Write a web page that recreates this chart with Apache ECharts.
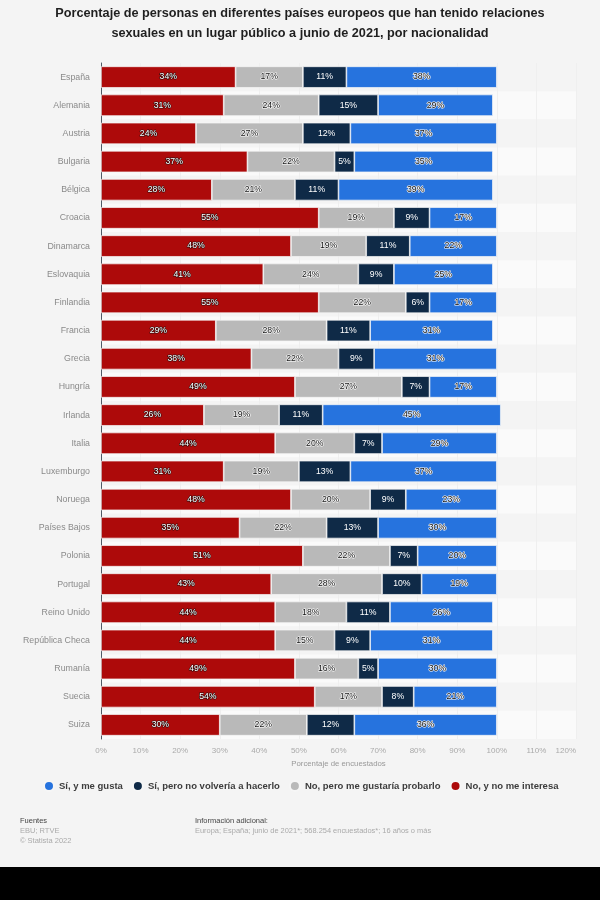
<!DOCTYPE html>
<html><head><meta charset="utf-8">
<script src="https://cdn.jsdelivr.net/npm/echarts@6/dist/echarts.min.js"></script>
<style>html,body{margin:0;padding:0;background:#000}#c{width:600px;height:900px}</style>
</head><body><div id="c"></div>
<script>
const categories=["España","Alemania","Austria","Bulgaria","Bélgica","Croacia","Dinamarca","Eslovaquia","Finlandia","Francia","Grecia","Hungría","Irlanda","Italia","Luxemburgo","Noruega","Países Bajos","Polonia","Portugal","Reino Unido","República Checa","Rumanía","Suecia","Suiza"];
const noInteresa=[34,31,24,37,28,55,48,41,55,29,38,49,26,44,31,48,35,51,43,44,44,49,54,30];
const noProbar=[17,24,27,22,21,19,19,24,22,28,22,27,19,20,19,20,22,22,28,18,15,16,17,22];
const siNoVolveria=[11,15,12,5,11,9,11,9,6,11,9,7,11,7,13,9,13,7,10,11,9,5,8,12];
const siGusta=[38,29,37,35,39,17,22,25,17,31,31,17,45,29,37,23,30,20,19,26,31,30,21,36];
const seriesNames=["Sí, y me gusta","Sí, pero no volvería a hacerlo","No, pero me gustaría probarlo","No, y no me interesa"];
const colors={gusta:"#2673de",volveria:"#0f2a47",probar:"#b9b9b9",interesa:"#ad0a0a"};
const title="Porcentaje de personas en diferentes países europeos que han tenido relaciones\nsexuales en un lugar público a junio de 2021, por nacionalidad";
const font="'Liberation Sans',Arial,sans-serif";
const light={color:"#fff",textBorderColor:"#2a1010",textBorderWidth:1.2};
const dark={color:"#111",textBorderColor:"#fff",textBorderWidth:1.2};
const clean={color:"#fff",textBorderWidth:0};
function s(name,data,color,lab){return{name,type:"bar",stack:"t",data,barWidth:21.5,
 itemStyle:{color,borderColor:"#f6f6f6",borderWidth:0.7},
 label:Object.assign({show:true,position:"inside",formatter:"{c}%",fontSize:8.7,fontFamily:font},lab)};}
const chart=echarts.init(document.getElementById("c"),null,{renderer:"canvas"});
chart.setOption({animation:false,backgroundColor:"#f4f4f4",
 title:[{text:title,left:"center",top:4,padding:0,textStyle:{fontFamily:font,fontSize:12.7,fontWeight:"bold",color:"#1f1f1f",lineHeight:19.5}}],
 grid:{left:101,top:63,width:475,height:676,containLabel:false},
 legend:{data:seriesNames,top:775,left:43,padding:[5,0,5,0],icon:"circle",itemWidth:10,itemHeight:10,itemGap:9,
  textStyle:{fontFamily:font,fontSize:9.5,fontWeight:"bold",color:"#3c3c3c",padding:[0,0,0,0]}},
 xAxis:{type:"value",min:0,max:120,interval:10,
  name:"Porcentaje de encuestados",nameLocation:"middle",nameGap:21,
  nameTextStyle:{fontFamily:font,fontSize:7.8,color:"#999"},
  axisLabel:{formatter:"{value}%",fontFamily:font,fontSize:8,color:"#aaa",margin:8,
   alignMaxLabel:"right"},
  axisLine:{show:false},axisTick:{show:false},
  splitLine:{show:true,lineStyle:{color:"#efefef",width:1}}},
 yAxis:{type:"category",inverse:true,data:categories,offset:0.6,
  axisLabel:{fontFamily:font,fontSize:8.8,color:"#8a8a8a",margin:10.4},
  axisTick:{show:false},axisLine:{show:true,lineStyle:{color:"#4f5a66",width:1}},
  splitArea:{show:true,areaStyle:{color:["#f4f4f4","#fafafa"]}},splitLine:{show:false}},
 series:[s(seriesNames[3],noInteresa,colors.interesa,light),
  s(seriesNames[2],noProbar,colors.probar,dark),
  s(seriesNames[1],siNoVolveria,colors.volveria,clean),
  s(seriesNames[0],siGusta,colors.gusta,dark)],
 graphic:[
  {type:"rect",silent:true,shape:{x:0,y:867,width:600,height:33},style:{fill:"#000"}},
  {type:"text",x:20,y:817,style:{text:"Fuentes",fontFamily:font,fontSize:7.5,fill:"#444"}},
  {type:"text",x:20,y:827,style:{text:"EBU; RTVE",fontFamily:font,fontSize:7.5,fill:"#aaa"}},
  {type:"text",x:20,y:837,style:{text:"© Statista 2022",fontFamily:font,fontSize:7.5,fill:"#aaa"}},
  {type:"text",x:195,y:817,style:{text:"Información adicional:",fontFamily:font,fontSize:7.5,fill:"#444"}},
  {type:"text",x:195,y:827,style:{text:"Europa; España; junio de 2021*; 568.254 encuestados*; 16 años o más",fontFamily:font,fontSize:7.45,fill:"#aaa"}}
 ]});
</script></body></html>
